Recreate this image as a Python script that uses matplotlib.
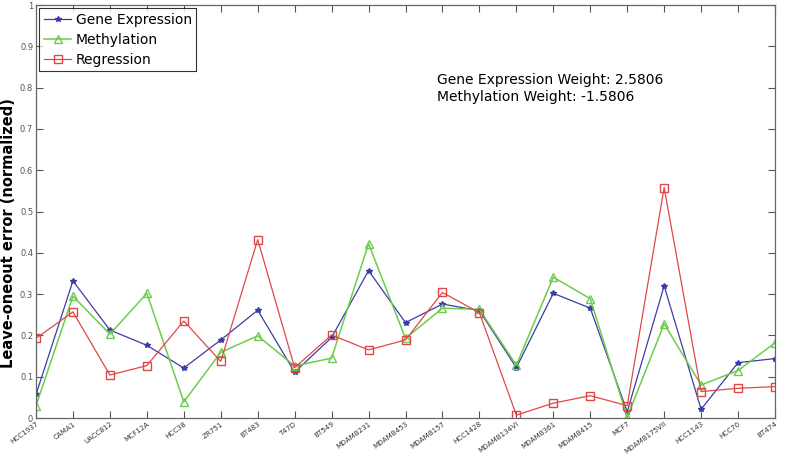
import numpy as np
import matplotlib
matplotlib.use('Agg')
import matplotlib.pyplot as plt

# 细胞系名称
cell_lines = ['HCC1937', 'CAMA1', 'UACC812', 'MCF12A', 'HCC38', 'ZR751', 'BT483',
              'T47D', 'BT549', 'MDAMB231', 'MDAMB453', 'MDAMB157', 'HCC1428',
              'MDAMB134VI', 'MDAMB361', 'MDAMB415', 'MCF7', 'MDAMB175VII',
              'HCC1143', 'HCC70', 'BT474']

# 三条曲线的误差
gene_expr = [0.057, 0.332, 0.213, 0.176, 0.121, 0.189, 0.261, 0.111, 0.195, 0.357,
             0.231, 0.276, 0.260, 0.122, 0.302, 0.266, 0.015, 0.320, 0.021, 0.134, 0.144]
methylation = [0.030, 0.295, 0.203, 0.302, 0.039, 0.159, 0.199, 0.126, 0.145, 0.422,
               0.193, 0.266, 0.263, 0.128, 0.341, 0.289, 0.002, 0.228, 0.080, 0.115, 0.182]
regression = [0.193, 0.257, 0.104, 0.127, 0.235, 0.137, 0.432, 0.122, 0.201, 0.165,
              0.189, 0.304, 0.255, 0.007, 0.036, 0.054, 0.030, 0.558, 0.064, 0.072, 0.076]

y_ticks = [0, 0.1, 0.2, 0.3, 0.4, 0.5, 0.6, 0.7, 0.8, 0.9, 1]
y_tick_labels = ['0', '0.1', '0.2', '0.3', '0.4', '0.5', '0.6', '0.7', '0.8', '0.9', '1']

x = np.arange(len(cell_lines))

fig = plt.figure(figsize=(7.88, 4.57), dpi=100)
ax = fig.add_axes([0.0457, 0.0853, 0.9378, 0.9037])

ax.plot(x, gene_expr, color='#3c3ca8', marker='*', markersize=4, linewidth=0.9,
        label='Gene Expression')
ax.plot(x, methylation, color='#6ccc4c', marker='^', markersize=6, fillstyle='none',
        linewidth=1.1, label='Methylation')
ax.plot(x, regression, color='#e04848', marker='s', markersize=6, fillstyle='none',
        linewidth=0.9, label='Regression')

ax.set_xlim(0, len(cell_lines) - 1)
ax.set_ylim(0, 1)
ax.set_xticks(x)
ax.set_xticklabels(cell_lines, rotation=36, ha='right', rotation_mode='anchor',
                   fontsize=5.1, color='#333333')
ax.set_yticks(y_ticks)
ax.set_yticklabels(y_tick_labels, fontsize=6, color='#555555')
ax.tick_params(direction='in', length=5, width=0.8, color='#555555',
               top=True, right=True, pad=2)
for s in ax.spines.values():
    s.set_color('#666666')
    s.set_linewidth(0.9)

ax.set_ylabel('Leave-oneout error (normalized)', fontsize=10.5, fontweight='bold')
ax.yaxis.set_label_coords(-0.027, 0.448)

leg = ax.legend(loc='upper left', fontsize=10, frameon=True, fancybox=False,
                borderaxespad=0.25, handlelength=2.0, handletextpad=0.3,
                borderpad=0.3, labelspacing=0.45)
leg.get_frame().set_edgecolor('black')
leg.get_frame().set_linewidth(0.8)

ax.text(0.542, 0.836, 'Gene Expression Weight: 2.5806\nMethylation Weight: -1.5806',
        transform=ax.transAxes, fontsize=10, va='top', linespacing=1.25)

plt.savefig('out.png', dpi=100)
